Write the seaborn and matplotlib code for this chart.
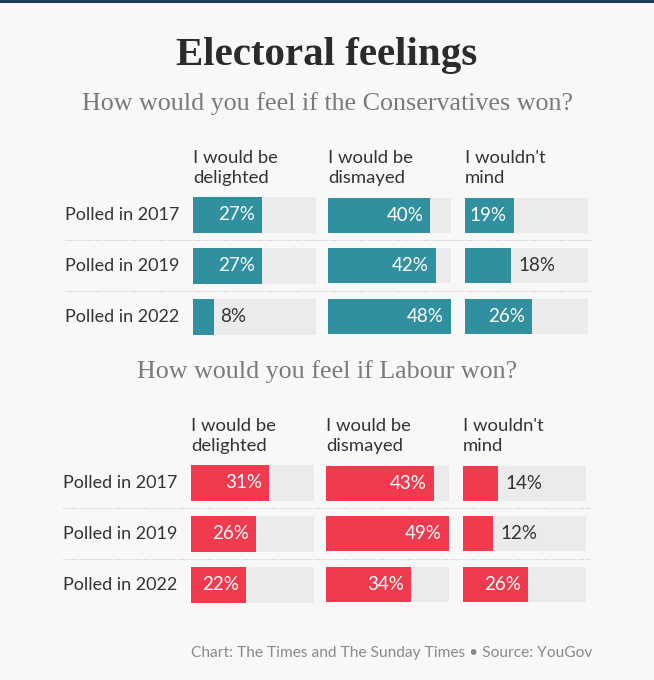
import pandas as pd
import matplotlib.pyplot as plt
import seaborn as sns

# Poll data (YouGov)
years = ["Polled in 2017", "Polled in 2019", "Polled in 2022"]
columns = ["I would be\ndelighted", "I would be\ndismayed", "I wouldn't\nmind"]
con_delighted = [27, 27, 8]
con_dismayed = [40, 42, 48]
con_wouldnt_mind = [19, 18, 26]
lab_delighted = [31, 26, 22]
lab_dismayed = [43, 49, 34]
lab_wouldnt_mind = [14, 12, 26]

W, H = 654, 680
BG = "#f8f8f8"
TRACK = "#ebebeb"
TEXT = "#333333"

sns.set_theme(style="white")
plt.rcParams['font.family'] = ['Lato', 'DejaVu Sans']

fig = plt.figure(figsize=(W / 100, H / 100), dpi=100)
fig.patch.set_facecolor(BG)


def px_axes(left, top, width, height):
    return fig.add_axes([left / W, 1 - (top + height) / H, width / W, height / H])


# navy rule along the top
fig.add_artist(plt.Rectangle((0, 1 - 3 / H), 1, 3 / H, transform=fig.transFigure,
                             color="#1f3a5c", lw=0))

fig.text(0.5, 1 - 55 / H, "Electoral feelings", ha="center", va="center",
         family=["Liberation Serif"], weight="bold", size=29.5, color="#2b2b2b")

panels = [
    {"subtitle": "How would you feel if the Conservatives won?", "sub_y": 104,
     "color": "#31909f", "values": [con_delighted, con_dismayed, con_wouldnt_mind],
     "lefts": [193, 328, 465], "top": 190, "label_x": 65, "line_end": 593},
    {"subtitle": "How would you feel if Labour won?", "sub_y": 372,
     "color": "#f03a4d", "values": [lab_delighted, lab_dismayed, lab_wouldnt_mind],
     "lefts": [191, 326, 463], "top": 458, "label_x": 63, "line_end": 591},
]

for panel in panels:
    fig.text(0.5, 1 - panel["sub_y"] / H, panel["subtitle"], ha="center", va="center",
             family=["Liberation Serif"], size=18.7, color="#7a7a7a")
    vmax = max(max(v) for v in panel["values"])
    for c, (col, vals) in enumerate(zip(columns, panel["values"])):
        ax = px_axes(panel["lefts"][c], panel["top"], 123, 151.5)
        df = pd.DataFrame({"year": years, "value": vals, "track": [vmax] * len(vals)})
        sns.barplot(data=df, x="track", y="year", orient="h", color=TRACK,
                    width=0.7, saturation=1, linewidth=0, ax=ax)
        sns.barplot(data=df, x="value", y="year", orient="h", color=panel["color"],
                    width=0.7, saturation=1, linewidth=0, ax=ax)
        ax.set_xlim(0, vmax)
        ax.set_axis_off()
        for i, v in enumerate(vals):
            if v >= 19:
                ax.annotate(f"{v}%", (v, i), xytext=(-7, 0), textcoords="offset pixels",
                            ha="right", va="center", color="white", size=13.5)
            else:
                ax.annotate(f"{v}%", (v, i), xytext=(7, 0), textcoords="offset pixels",
                            ha="left", va="center", color=TEXT, size=13.5)
        ax.text(0, 1.025, col, transform=ax.transAxes, ha="left", va="bottom",
                color=TEXT, size=13.3, linespacing=1.3)
        if c == 0:
            x0 = (panel["label_x"] - panel["lefts"][0]) / 123
            x1 = (panel["line_end"] - panel["lefts"][0]) / 123
            for i, yr in enumerate(years):
                ax.text(x0, i, yr, transform=ax.get_yaxis_transform(), ha="left",
                        va="center", color=TEXT, size=13)
            for y in [0.5, 1.5]:
                ax.plot([x0, x1], [y, y], transform=ax.get_yaxis_transform(),
                        clip_on=False, ls=(0, (1, 1.5)), lw=0.8, color="#c4c4c4")

fig.text(592 / W, 1 - 653 / H,
         "Chart: The Times and The Sunday Times \u2022 Source: YouGov",
         ha="right", va="center", size=11.2, color="#8a8a8a")

fig.savefig("out.png", dpi=100, facecolor=BG)
